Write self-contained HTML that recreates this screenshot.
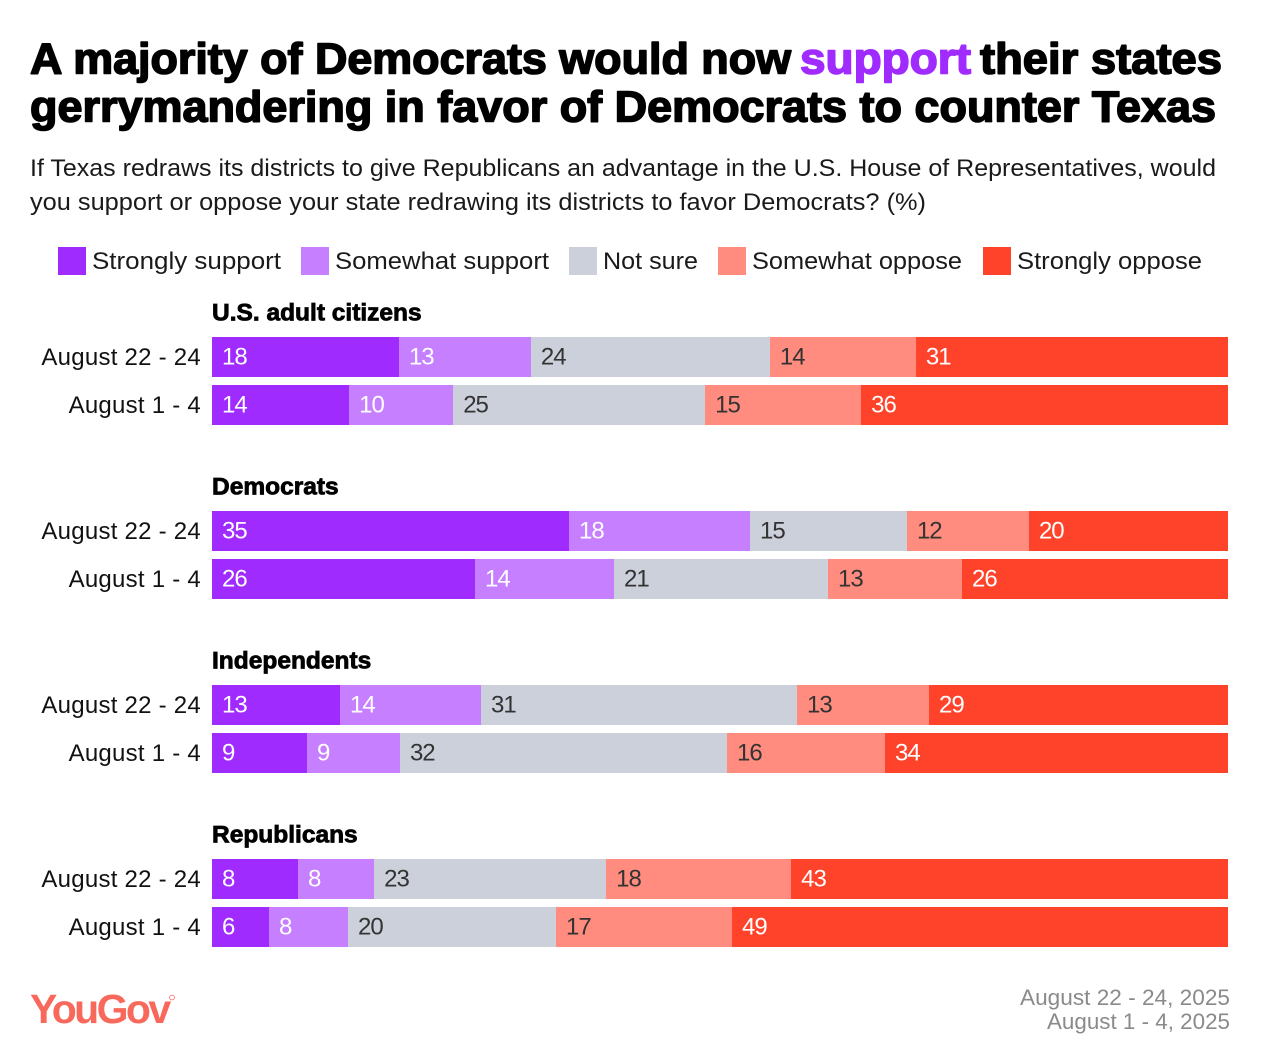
<!DOCTYPE html>
<html lang="en">
<head>
<meta charset="utf-8">
<title>YouGov gerrymandering support chart</title>
<style>
html,body{margin:0;padding:0;background:#fff;}
svg{display:block;font-family:"Liberation Sans",Arial,sans-serif;}
.title{font-size:44px;font-weight:700;stroke-width:1.6px;stroke-linejoin:round;}
.sub{font-size:24px;fill:#1a1a1a;}
.leg{font-size:24px;fill:#1a1a1a;}
.grp{font-size:24.5px;font-weight:700;fill:#000;stroke:#000;stroke-width:.8px;}
.rowl{font-size:24px;fill:#111;letter-spacing:.25px;}
.val{font-size:24px;letter-spacing:-1px;}
.foot{font-size:22px;fill:#8a8a8a;}
</style>
</head>
<body>
<svg id="chart" width="1282" height="1064" viewBox="0 0 1282 1064" xmlns="http://www.w3.org/2000/svg">
<rect x="0" y="0" width="1282" height="1064" fill="#ffffff"/>
<g>
<text class="title" x="30" y="73.5" fill="#000" stroke="#000" textLength="761" lengthAdjust="spacingAndGlyphs">A majority of Democrats would now</text>
<text class="title" x="800" y="73.5" fill="#a02bff" stroke="#a02bff" textLength="171" lengthAdjust="spacingAndGlyphs">support</text>
<text class="title" x="980" y="73.5" fill="#000" stroke="#000" textLength="242" lengthAdjust="spacingAndGlyphs">their states</text>
<text class="title" x="30" y="121.5" fill="#000" stroke="#000" textLength="1186" lengthAdjust="spacingAndGlyphs">gerrymandering in favor of Democrats to counter Texas</text>
</g>
<g>
<text class="sub" x="30" y="176" textLength="1186" lengthAdjust="spacingAndGlyphs">If Texas redraws its districts to give Republicans an advantage in the U.S. House of Representatives, would</text>
<text class="sub" x="30" y="210" textLength="896" lengthAdjust="spacingAndGlyphs">you support or oppose your state redrawing its districts to favor Democrats? (%)</text>
</g>
<g>
<g>
<rect x="58" y="247" width="28" height="28" fill="#a02bff"/>
<text class="leg" x="92" y="269" textLength="189" lengthAdjust="spacingAndGlyphs">Strongly support</text>
</g>
<g>
<rect x="301" y="247" width="28" height="28" fill="#c680ff"/>
<text class="leg" x="335" y="269" textLength="214" lengthAdjust="spacingAndGlyphs">Somewhat support</text>
</g>
<g>
<rect x="569" y="247" width="28" height="28" fill="#ccd0db"/>
<text class="leg" x="603" y="269" textLength="95" lengthAdjust="spacingAndGlyphs">Not sure</text>
</g>
<g>
<rect x="718" y="247" width="28" height="28" fill="#ff8c7e"/>
<text class="leg" x="752" y="269" textLength="210" lengthAdjust="spacingAndGlyphs">Somewhat oppose</text>
</g>
<g>
<rect x="983" y="247" width="28" height="28" fill="#ff432b"/>
<text class="leg" x="1017" y="269" textLength="185" lengthAdjust="spacingAndGlyphs">Strongly oppose</text>
</g>
</g>
<g id="plot"></g>
<g>
<text x="30" y="1023" font-size="41" font-weight="700" fill="#f8695c" letter-spacing="-2.6">YouGov</text>
<circle cx="172" cy="997.5" r="2.4" fill="none" stroke="#f8695c" stroke-width=".8"/>
</g>
<g>
<text class="foot" x="1230" y="1005" text-anchor="end" textLength="210" lengthAdjust="spacingAndGlyphs">August 22 - 24, 2025</text>
<text class="foot" x="1230" y="1029" text-anchor="end" textLength="183" lengthAdjust="spacingAndGlyphs">August 1 - 4, 2025</text>
</g>
</svg>
<script>
const groups = ["U.S. adult citizens", "Democrats", "Independents", "Republicans"];
const waves = ["August 22 - 24", "August 1 - 4"];
const series = ["Strongly support", "Somewhat support", "Not sure", "Somewhat oppose", "Strongly oppose"];
const strongSupport = [18.4, 13.5, 35.14, 25.89, 12.6, 9.35, 8.46, 5.61];
const somewhatSupport = [12.99, 10.24, 17.81, 13.68, 13.88, 9.15, 7.5, 7.78];
const notSure = [23.52, 24.8, 15.45, 21.06, 31.1, 32.19, 22.83, 20.47];
const somewhatOppose = [14.37, 15.35, 12.01, 13.19, 12.99, 15.55, 18.21, 17.32];
const stronglyOppose = [30.71, 36.12, 19.59, 26.18, 29.43, 33.76, 43.01, 48.82];

const seriesValues = [strongSupport, somewhatSupport, notSure, somewhatOppose, stronglyOppose];
const seriesColors = ["#a02bff", "#c680ff", "#ccd0db", "#ff8c7e", "#ff432b"];
const labelColors = ["#ffffff", "#ffffff", "#333333", "#333333", "#ffffff"];

const NS = "http://www.w3.org/2000/svg";
const plot = document.getElementById("plot");
const xLeft = 212, xWidth = 1016, barHeight = 40;
function xScale(v) { return xLeft + v / 100 * xWidth; }
function groupTop(g) { return 337 + g * 174; }
function rowTop(r) { return groupTop(Math.floor(r / 2)) + (r % 2) * 48; }
function slug(s) { return s.toLowerCase().replace(/[^a-z0-9]+/g, "-").replace(/^-|-$/g, ""); }

groups.forEach(function (name, g) {
  const t = document.createElementNS(NS, "text");
  
  
  t.setAttribute("class", "grp");
  t.setAttribute("x", xLeft);
  t.setAttribute("y", groupTop(g) - 16.5);
  t.textContent = name;
  plot.appendChild(t);
});

strongSupport.forEach(function (_, r) {
  const rowName = slug(groups[Math.floor(r / 2)]) + "-" + slug(waves[r % 2]);
  const y = rowTop(r);
  const rl = document.createElementNS(NS, "text");
  
  
  rl.setAttribute("class", "rowl");
  rl.setAttribute("x", 201);
  rl.setAttribute("y", y + 28);
  rl.setAttribute("text-anchor", "end");
  rl.textContent = waves[r % 2];
  plot.appendChild(rl);

  let cum = 0;
  seriesValues.forEach(function (vals, s) {
    const v = vals[r];
    const x0 = xScale(cum), x1 = xScale(cum + v);
    const rect = document.createElementNS(NS, "rect");
    
    
    rect.setAttribute("x", x0);
    rect.setAttribute("y", y);
    rect.setAttribute("width", x1 - x0);
    rect.setAttribute("height", barHeight);
    rect.setAttribute("fill", seriesColors[s]);
    rect.setAttribute("shape-rendering", "crispEdges");
    plot.appendChild(rect);

    const lab = document.createElementNS(NS, "text");
    
    
    lab.setAttribute("class", "val");
    lab.setAttribute("x", x0 + 10);
    lab.setAttribute("y", y + 27.5);
    lab.setAttribute("fill", labelColors[s]);
    lab.textContent = Math.round(v);
    plot.appendChild(lab);
    cum += v;
  });
});
</script>
</body>
</html>
